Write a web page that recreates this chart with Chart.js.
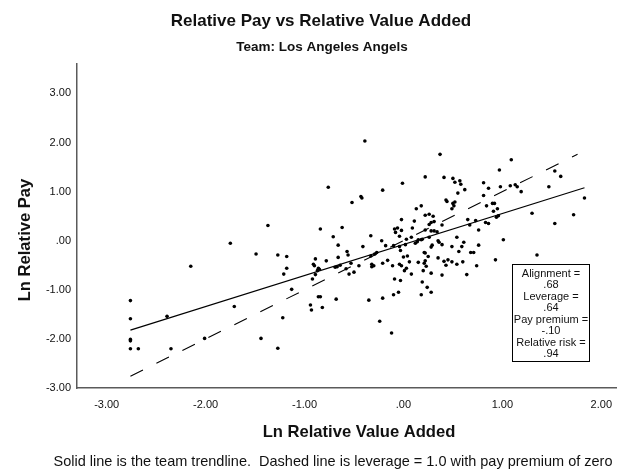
<!DOCTYPE html>
<html><head><meta charset="utf-8">
<script src="https://cdn.jsdelivr.net/npm/chart.js@4.4.1/dist/chart.umd.min.js"></script>
<style>html,body{margin:0;padding:0;background:#fff}#wrap{width:622px;height:475px}</style>
</head><body><div id="wrap"><canvas id="c" width="622" height="475"></canvas></div>
<script>
// ---- Data ----
const lnValueAdded = [
-1.75,-1.49,-2.15,-2.76,-2.76,-2.39,-1.71,-2.76,-2.76,-2.76,-2.68,-2.35,-2.01,
-0.39,-0.76,-0.01,-0.21,0.22,-0.52,-0.43,-0.42,-1.37,-0.84,-0.62,-0.71,-0.66,-0.41,-0.33,-0.02,-0.22,
-0.09,-0.06,-0.02,-0.08,-0.04,0.09,0.11,0.13,0.18,0.22,0.22,0.03,0.08,-0.18,0.12,0.14,-0.04,
-1.27,-1.18,-1.18,-1.21,-1.13,-1.22,-1.44,-1.27,-0.91,-0.90,-0.89,-0.86,-0.85,-0.87,-0.89,-0.92,-0.78,
-0.86,-0.84,-0.94,-0.93,-0.82,-0.68,-0.66,-0.69,-0.67,-0.64,-0.57,-0.56,-0.58,-0.55,-0.53,-0.50,-0.45,
-0.33,-0.29,-0.27,-0.32,-0.30,-0.32,-0.21,-0.16,-0.11,-0.09,-0.03,-0.04,-0.02,-0.03,0.00,0.04,0.06,
0.01,0.03,0.08,0.15,0.22,0.21,0.19,0.18,-0.10,-0.05,-0.21,-0.35,-0.24,-0.12,0.02,0.18,-0.10,
0.37,1.09,0.41,0.50,0.52,0.57,0.58,0.62,0.55,0.43,0.44,0.50,0.52,0.51,0.49,0.81,0.86,0.97,0.98,
1.08,1.13,1.15,1.19,0.81,0.84,0.90,0.92,0.95,0.91,0.96,0.94,1.30,1.47,1.53,1.59,1.72,1.83,1.53,
1.01,0.76,0.65,0.67,0.73,0.83,0.86,0.54,0.61,0.59,0.49,0.76,0.26,0.30,0.26,0.28,0.31,0.39,0.28,
0.31,0.34,0.15,0.19,0.26,0.35,0.36,0.29,0.28,0.39,
1.35,0.93,0.68,0.71,0.56,0.60,0.54,0.49,0.74,0.64,0.45,0.41,0.43,0.35,0.39,0.28,0.25,0.22,0.21,
0.23,0.20,0.24,0.28
];
const lnRelativePay = [
-0.05,-0.27,-0.52,-1.22,-1.59,-1.54,-1.34,-2.01,-2.04,-2.20,-2.20,-2.20,-1.99,
2.03,1.09,1.17,1.03,1.30,0.78,0.90,0.87,0.31,0.24,0.27,0.08,-0.09,-0.12,0.10,0.43,0.00,
0.24,0.26,0.21,0.17,0.09,0.26,0.40,0.65,0.71,0.52,0.22,0.03,0.07,-0.10,-0.05,-0.02,-0.12,
-0.29,-0.32,-0.56,-0.68,-0.99,-1.57,-1.99,-2.19,-0.48,-0.51,-0.37,-0.56,-0.58,-0.61,-0.69,-0.78,-0.41,
-1.14,-1.14,-1.31,-1.41,-1.36,-1.19,-0.34,-0.54,-0.53,-0.50,-0.22,-0.29,-0.57,-0.68,-0.46,-0.64,-0.51,
-0.31,-0.27,-0.24,-0.48,-0.51,-0.53,-0.46,-0.40,-0.51,-0.78,-0.81,-0.48,-0.51,-0.20,-0.33,-0.31,-0.43,
-0.61,-0.56,-0.68,-0.44,-0.41,-0.24,-0.84,-1.10,-1.10,-1.05,-1.17,-1.21,-1.64,-1.88,-0.08,0.02,-0.10,
1.76,1.65,1.29,1.27,1.19,1.22,1.15,1.04,0.97,0.83,0.80,0.76,0.79,0.71,0.65,1.18,1.07,1.44,1.10,
1.12,1.14,1.10,1.00,0.92,0.71,0.76,0.76,0.65,0.60,0.51,0.48,0.56,1.10,1.42,1.31,0.53,0.87,0.35,
0.02,0.22,0.43,0.32,0.41,0.37,0.35,0.07,-0.03,-0.12,-0.12,-0.09,0.54,0.50,0.33,0.37,0.39,0.32,0.20,
0.20,0.18,0.02,0.03,0.07,0.00,-0.03,-0.09,-0.13,-0.08,
-0.29,-0.39,-0.24,-0.24,-0.22,-0.43,-0.48,-0.43,-0.51,-0.69,-0.39,-0.42,-0.50,-0.35,-0.70,-0.66,-0.32,-0.25,-0.46,
-0.52,-0.61,-0.95,-1.05
];
const trendX = [-2.76, 1.83];
const trendY = [-1.82, 1.08];
const refX = [-2.76, 1.76];
const refY = [-2.76, 1.76];
const xTickValues = [-3, -2, -1, 0, 1, 2];
const xTickLabels = ["-3.00", "-2.00", "-1.00", ".00", "1.00", "2.00"];
const yTickValues = [-3, -2, -1, 0, 1, 2, 3];
const yTickLabels = ["-3.00", "-2.00", "-1.00", ".00", "1.00", "2.00", "3.00"];
const chartTitle = "Relative Pay vs Relative Value Added";
const chartSubtitle = "Team: Los Angeles Angels";
const xTitle = "Ln Relative Value Added";
const yTitle = "Ln Relative Pay";
const footnote = "Solid line is the team trendline.  Dashed line is leverage = 1.0 with pay premium of zero";
const statLines = ["Alignment =", ".68", "Leverage =", ".64", "Pay premium =", "-.10", "Relative risk =", ".94"];

// ---- Build ----
const FONT = '"Liberation Sans", Arial, Helvetica, sans-serif';
const points = lnValueAdded.map((x, i) => ({ x: x, y: lnRelativePay[i] }));
const trend = trendX.map((x, i) => ({ x: x, y: trendY[i] }));
const ref = refX.map((x, i) => ({ x: x, y: refY[i] }));

const textPlugin = {
  id: 'texts',
  afterDatasetsDraw(chart) {
    const ctx = chart.ctx;
    ctx.save();
    // stats box
    const bx = 512, by = 264, bw = 77, bh = 97;
    ctx.fillStyle = '#ffffff';
    ctx.fillRect(bx, by, bw, bh);
    ctx.strokeStyle = '#000';
    ctx.lineWidth = 1;
    ctx.strokeRect(bx + 0.5, by + 0.5, bw, bh);
    ctx.fillStyle = '#111';
    ctx.font = '11px ' + FONT;
    ctx.textAlign = 'center';
    ctx.textBaseline = 'middle';
    statLines.forEach((t, i) => ctx.fillText(t, bx + bw / 2 + 0.5, 273.5 + i * 11.5));
    ctx.restore();
  },
  afterDraw(chart) {
    const ctx = chart.ctx;
    ctx.save();
    ctx.fillStyle = '#111';
    ctx.textAlign = 'center';
    ctx.textBaseline = 'middle';
    ctx.font = 'bold 17px ' + FONT;
    ctx.fillText(chartTitle, 321, 21);
    ctx.font = 'bold 13.5px ' + FONT;
    ctx.fillText(chartSubtitle, 322, 47);
    ctx.font = 'bold 16.6px ' + FONT;
    ctx.fillText(xTitle, 359, 432);
    ctx.font = '14.5px ' + FONT;
    ctx.fillText(footnote, 333, 462);
    ctx.save();
    ctx.translate(25, 240);
    ctx.rotate(-Math.PI / 2);
    ctx.font = 'bold 16.6px ' + FONT;
    ctx.fillText(yTitle, 0, 0);
    ctx.restore();
    ctx.restore();
  }
};

new Chart(document.getElementById('c'), {
  type: 'scatter',
  data: {
    datasets: [
      { label: 'Players', data: points, pointRadius: 1.8, pointHoverRadius: 1.8,
        pointBackgroundColor: '#000', pointBorderWidth: 0, showLine: false, order: 1 },
      { type: 'line', label: 'Team trendline', data: trend, borderColor: '#000', borderWidth: 1.2,
        pointRadius: 0, fill: false, tension: 0, order: 2 },
      { type: 'line', label: 'Leverage 1.0', data: ref, borderColor: '#000', borderWidth: 1.1,
        borderDash: [14, 15], pointRadius: 0, fill: false, tension: 0, order: 3 }
    ]
  },
  options: {
    responsive: false,
    devicePixelRatio: 1,
    animation: false,
    events: [],
    layout: { autoPadding: false, padding: { top: 64, right: 0, bottom: 0, left: 0 } },
    plugins: { legend: { display: false }, title: { display: false }, tooltip: { enabled: false } },
    scales: {
      x: {
        type: 'linear', position: 'bottom', min: -3.3, max: 2.15,
        afterFit: s => { s.height = 87; },
        afterBuildTicks: s => { s.ticks = xTickValues.map(v => ({ value: v })); },
        grid: { display: false, drawTicks: false },
        border: { display: true, color: '#5a5a5a', width: 1.5 },
        ticks: { padding: 10, color: '#111', font: { family: FONT, size: 11 },
          callback: v => xTickLabels[xTickValues.indexOf(v)] }
      },
      y: {
        type: 'linear', position: 'left', min: -3, max: 3.6,
        afterFit: s => { s.width = 77; },
        afterBuildTicks: s => { s.ticks = yTickValues.map(v => ({ value: v })); },
        grid: { display: false, drawTicks: false },
        border: { display: true, color: '#5a5a5a', width: 1.5 },
        ticks: { padding: 6, color: '#111', font: { family: FONT, size: 11 },
          callback: v => yTickLabels[yTickValues.indexOf(v)] }
      }
    }
  },
  plugins: [textPlugin]
});
</script></body></html>
